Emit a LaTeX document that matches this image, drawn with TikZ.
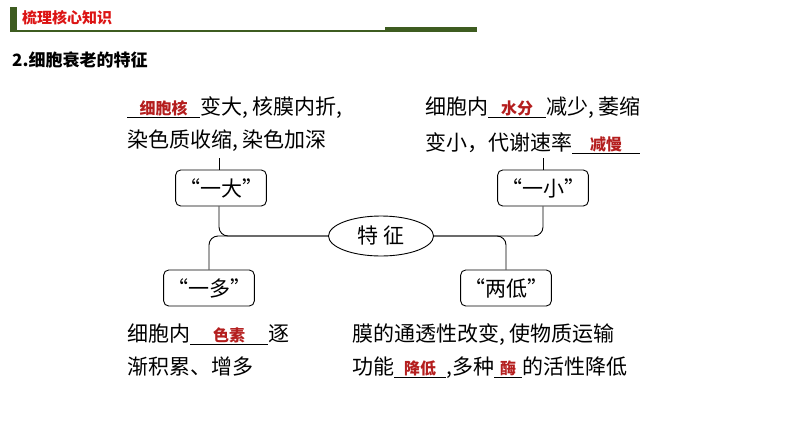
\documentclass[tikz,border=0pt]{standalone}
\usepackage{fontspec}
\setmainfont{Noto Sans CJK SC}
\usetikzlibrary{shapes.geometric}
\definecolor{hdgreen}{RGB}{62,92,32}
\definecolor{hdred}{RGB}{220,20,20}
\definecolor{ansred}{RGB}{180,30,30}
\newcommand{\blank}[2]{\underline{\makebox[#1pt]{\fontsize{16}{16}\selectfont\bfseries\textcolor{ansred}{#2}}}}
\tikzset{
  tag/.style={shape=rectangle,draw=black,rounded corners=5,line width=0.9pt,minimum width=82,minimum height=36,font=\fontsize{21}{21}\selectfont},
  body/.style={anchor=base west,inner sep=0,font=\fontsize{21}{21}\selectfont},
  link/.style={draw=black,line width=0.9pt,rounded corners=9}
}
\begin{document}
\begin{tikzpicture}[x=1pt,y=-1pt]
\useasboundingbox (0,0) rectangle (794,447);
\fill[hdgreen] (10,7) rectangle (17,30);
\node[anchor=west,inner sep=0,font=\fontsize{15}{15}\selectfont\bfseries,text=hdred] (head) at (22,18) {梳理核心知识};
\draw[hdgreen,line width=1.2pt] (10,31) -- (385,31);
\fill[hdgreen] (385,27) rectangle (477,32);
\node[anchor=west,inner sep=0,font=\fontsize{17}{17}\selectfont\bfseries] (title) at (12,60) {2.细胞衰老的特征};

\node[body] (tl1) at (127,114) {\blank{73}{细胞核}变大, 核膜内折,};
\node[body] (tl2) at (127,147) {染色质收缩, 染色加深};
\node[body] (tr1) at (425,114) {细胞内\blank{58}{水分}减少, 萎缩};
\node[body] (tr2) at (425,150) {变小，代谢速率\blank{68}{减慢}};
\node[body] (bl1) at (127,341) {细胞内\blank{78}{色素}逐};
\node[body] (bl2) at (127,374) {渐积累、增多};
\node[body] (br1) at (352,341) {膜的通透性改变, 使物质运输};
\node[body] (br2) at (352,374) {功能\blank{52}{降低},多种\blank{28}{酶}的活性降低};

\node[tag] (da) at (221,188) {“一大”};
\node[tag] (xiao) at (543,188) {“一小”};
\node[tag] (duo) at (209,288) {“一多”};
\node[tag] (liang) at (506,288) {“两低”};
\node[shape=ellipse,draw=black,line width=0.9pt,minimum width=105,minimum height=40,font=\fontsize{21}{21}\selectfont] (tz) at (381,236) {特\ 征};

\coordinate (daup) at (219,158);
\coordinate (xiaoup) at (543,158);
\draw[link] (daup) -- (da.north -| daup);
\draw[link] (xiaoup) -- (xiao.north);
\draw[link] (da.south -| daup) |- (tz.west);
\draw[link] (tz.west) -| (duo.north);
\draw[link] (tz.east) -| (xiao.south);
\draw[link] (tz.east) -| (liang.north);
\end{tikzpicture}
\end{document}
